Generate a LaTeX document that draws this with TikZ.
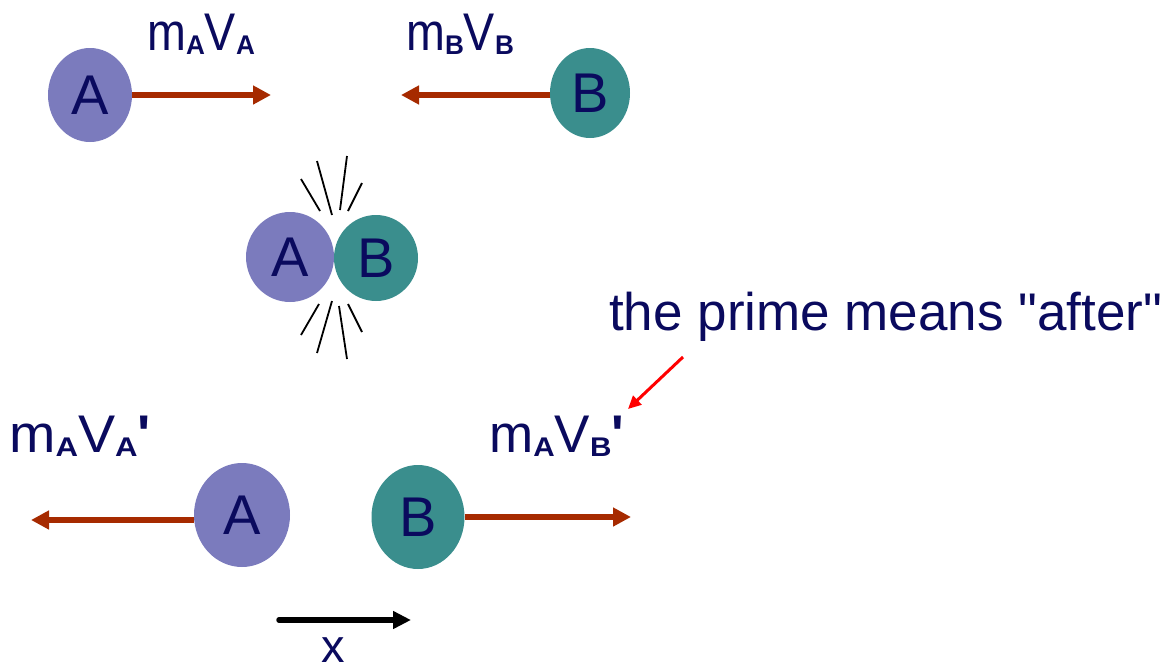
\documentclass[tikz,border=0pt]{standalone}
\usepackage{fontspec}
\setmainfont{Liberation Sans}[Ligatures=TeXOff]
\usetikzlibrary{arrows.meta,shapes.geometric}
\definecolor{ballA}{HTML}{7B7BBD}
\definecolor{ballB}{HTML}{3A8E8D}
\definecolor{momarrow}{HTML}{A62A00}
\definecolor{navy}{HTML}{0A0A5E}
\newcommand{\subA}{\raisebox{-4pt}{\scalebox{1.1}[1]{\fontsize{27}{27}\selectfont\bfseries A}}}
\newcommand{\subB}{\raisebox{-4pt}{\scalebox{1.1}[1]{\fontsize{27}{27}\selectfont\bfseries B}}}
\newcommand{\prm}{{\bfseries\symbol{39}}}
\tikzset{
  ball/.style={ellipse, inner sep=0pt, text=navy, font=\fontsize{56}{56}\selectfont},
  purpleball/.style={ball, fill=ballA},
  tealball/.style={ball, fill=ballB},
  mom/.style={draw=momarrow, line width=6.5pt, -{Triangle[length=18pt,width=18pt]}},
  lbl/.style={text=navy, font=\fontsize{53}{53}\selectfont, inner sep=0pt, anchor=base west},
  spark/.style={draw=black, line width=1.8pt},
}
\begin{document}
\begin{tikzpicture}[x=1pt,y=-1pt]
\useasboundingbox (0,0) rectangle (1176,672);
% top row
\node[purpleball, minimum width=84pt, minimum height=94pt] (A1) at (90,95) {A};
\node[tealball, minimum width=80pt, minimum height=90pt] (B1) at (590,93) {B};
\coordinate (A1e) at (271,95);
\coordinate (B1e) at (401,95);
\draw[mom] (A1.east) -- (A1e);
\draw[mom] (B1.west |- B1e) -- (B1e);
\node[lbl] (LA1) at (147,50) {\scalebox{0.88}[1]{m\subA V\subA}};
\node[lbl] (LB1) at (406,50) {\scalebox{0.88}[1]{m\subB V\subB}};
% collision
\node[purpleball, minimum width=88pt, minimum height=90pt] (A2) at (290,257) {A};
\node[tealball, minimum width=84pt, minimum height=86pt] (B2) at (376,258) {B};
\draw[spark] (301,179) -- (320,211);
\draw[spark] (317,161) -- (332,215);
\draw[spark] (347,156) -- (340,210);
\draw[spark] (362,183) -- (348,211);
\draw[spark] (319,304) -- (301,335);
\draw[spark] (332,301) -- (317,353);
\draw[spark] (339,306) -- (347,359);
\draw[spark] (348,304) -- (362,332);
% after
\node[purpleball, minimum width=96pt, minimum height=104pt] (A3) at (242,515) {A};
\node[tealball, minimum width=93pt, minimum height=104pt] (B3) at (418,517) {B};
\coordinate (A3e) at (31,520);
\coordinate (B3e) at (631,517);
\draw[mom] (A3.west |- A3e) -- (A3e);
\draw[mom] (B3.east) -- (B3e);
\node[lbl] (LA3) at (9,452) {\scalebox{1.05}[1]{m\subA V\subA\prm}};
\node[lbl] (LB3) at (489,452) {m\subA V\subB\prm};
% note
\node[lbl] (note) at (609,330) {the prime means "after"};
\coordinate (n1) at (683,357);
\coordinate (n2) at (628,409);
\draw[draw=red, line width=3pt, -{Triangle[length=13pt,width=12pt]}] (n1) -- (n2);
% x axis
\coordinate (x1) at (279,620);
\coordinate (x2) at (411,620);
\draw[line width=5.5pt, line cap=round, -{Triangle[length=18pt,width=17pt]}] (x1) -- (x2);
\node[text=navy, font=\fontsize{47}{47}\selectfont, inner sep=0pt, anchor=base] (xl) at (333,662) {x};
\end{tikzpicture}
\end{document}
